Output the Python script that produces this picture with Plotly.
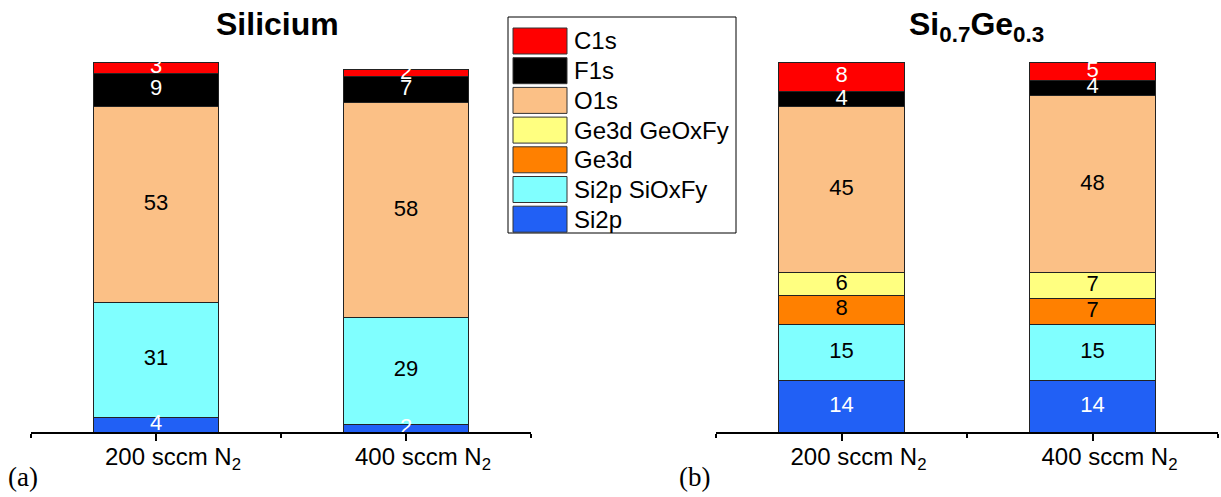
import plotly.graph_objects as go
from plotly.subplots import make_subplots

# ---------------- data ----------------
categories = ["200 sccm N<sub>2</sub>", "400 sccm N<sub>2</sub>"]
series_names = ["Si2p", "Si2p SiOxFy", "Ge3d", "Ge3d GeOxFy", "O1s", "F1s", "C1s"]  # bottom -> top
series_colors = ["#2160F5", "#80FFFF", "#FF8000", "#FFFF80", "#FBC086", "#000000", "#FF0000"]
label_colors = ["white", "black", "black", "black", "black", "white", "white"]

# Silicium
si_si2p = [4, 2]
si_sioxfy = [31, 29]
si_ge3d = [0, 0]
si_geoxfy = [0, 0]
si_o1s = [53, 58]
si_f1s = [9, 7]
si_c1s = [3, 2]

# Si0.7Ge0.3
sige_si2p = [14, 14]
sige_sioxfy = [15, 15]
sige_ge3d = [8, 7]
sige_geoxfy = [6, 7]
sige_o1s = [45, 48]
sige_f1s = [4, 4]
sige_c1s = [8, 5]

panel_titles = ["<b>Silicium</b>", "<b>Si<sub>0.7</sub>Ge<sub>0.3</sub></b>"]
panel_letters = ["(a)", "(b)"]

panels = [
    [si_si2p, si_sioxfy, si_ge3d, si_geoxfy, si_o1s, si_f1s, si_c1s],
    [sige_si2p, sige_sioxfy, sige_ge3d, sige_geoxfy, sige_o1s, sige_f1s, sige_c1s],
]

# ---------------- layout geometry (pixels) ----------------
W, H = 1221, 497
L, R, T, B = 31, 3, 62, 65
PW, PH = W - L - R, H - T - B


def px(x):
    return (x - L) / PW


def py(y):
    return (T + PH - y) / PH


fig = make_subplots(rows=1, cols=2)
xpos = list(range(len(categories)))

for p, series in enumerate(panels):
    col = p + 1
    base = [0.0] * len(categories)
    for name, vals, color, lcol in zip(series_names, series, series_colors, label_colors):
        fig.add_trace(
            go.Bar(
                x=xpos, y=vals, name=name, width=0.5,
                marker=dict(color=color, line=dict(color="#222222", width=1)),
                showlegend=False, hoverinfo="name+y",
            ),
            row=1, col=col,
        )
        tx, ty, tt = [], [], []
        for i, v in enumerate(vals):
            if v > 0:
                tx.append(xpos[i])
                ty.append(base[i] + v / 2)
                tt.append(str(v))
            base[i] += v
        fig.add_trace(
            go.Scatter(
                x=tx, y=ty, text=tt, mode="text", cliponaxis=True,
                textfont=dict(family="Liberation Sans", size=22, color=lcol),
                showlegend=False, hoverinfo="skip",
            ),
            row=1, col=col,
        )

fig.update_layout(
    barmode="stack",
    width=W, height=H,
    margin=dict(l=L, r=R, t=T, b=B, autoexpand=False),
    plot_bgcolor="white", paper_bgcolor="white",
    font=dict(family="Liberation Sans", color="black"),
)

axis_common = dict(
    range=[-0.5, len(categories) - 0.5],
    tickmode="array", tickvals=xpos, ticktext=categories,
    showline=True, linecolor="black", linewidth=1.5,
    ticks="outside", ticklen=7, tickwidth=1.5, tickcolor="black",
    minor=dict(tickmode="array", tickvals=[-0.5, 0.5, 1.5], ticks="outside",
               ticklen=4, tickwidth=1.5, tickcolor="black", showgrid=False),
    tickfont=dict(family="Liberation Sans", size=24, color="black"),
    ticklabelshift=17, ticklabelstandoff=-5,
    showgrid=False, zeroline=False, fixedrange=True,
)
fig.update_xaxes(**axis_common)
fig.update_layout(
    xaxis=dict(domain=[0, px(531)]),
    xaxis2=dict(domain=[px(716), 1]),
)
fig.update_yaxes(range=[0, 100], visible=False, fixedrange=True)

annotations = []
# panel titles
annotations.append(dict(text=panel_titles[0], x=px(277), y=py(24), xref="paper", yref="paper",
                        showarrow=False, xanchor="center", yanchor="middle",
                        font=dict(family="Liberation Sans", size=32, color="black")))
annotations.append(dict(text=panel_titles[1], x=px(976), y=py(26), xref="paper", yref="paper",
                        showarrow=False, xanchor="center", yanchor="middle",
                        font=dict(family="Liberation Sans", size=32, color="black")))
# panel letters
for letter, lx in zip(panel_letters, [23, 694]):
    annotations.append(dict(text=letter, x=px(lx), y=py(477), xref="paper", yref="paper",
                            showarrow=False, xanchor="center", yanchor="middle",
                            font=dict(family="Liberation Serif", size=27, color="black")))

# custom legend (top -> bottom)
shapes = []
shapes.append(dict(type="rect", xref="paper", yref="paper",
                   x0=px(508), x1=px(736), y0=py(233), y1=py(17),
                   line=dict(color="black", width=1), fillcolor="white", layer="below"))
row_top, row_h, row_step = 28, 26, 29.7
for k, idx in enumerate(reversed(range(len(series_names)))):
    y0 = row_top + k * row_step
    shapes.append(dict(type="rect", xref="paper", yref="paper",
                       x0=px(513), x1=px(567), y0=py(y0 + row_h), y1=py(y0),
                       line=dict(color="#333333", width=1), fillcolor=series_colors[idx]))
    annotations.append(dict(text=series_names[idx], x=px(572), y=py(y0 + row_h / 2),
                            xref="paper", yref="paper", showarrow=False,
                            xanchor="left", yanchor="middle",
                            font=dict(family="Liberation Sans", size=24, color="black")))

fig.update_layout(annotations=annotations, shapes=shapes)

fig.write_html("out.html", config={"displayModeBar": False},
               post_script="document.body.style.margin='0';document.body.style.overflow='hidden';")
